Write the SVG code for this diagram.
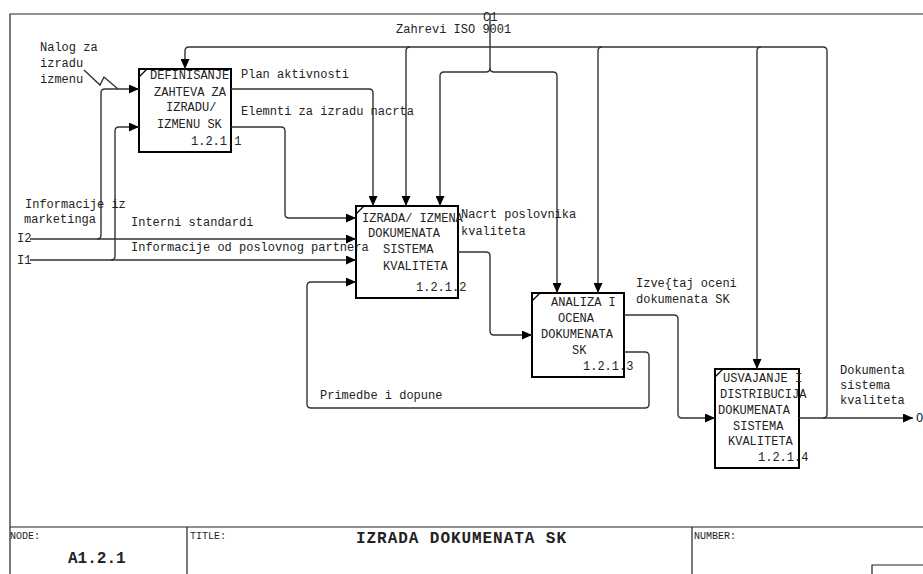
<svg xmlns="http://www.w3.org/2000/svg" width="923" height="574" viewBox="0 0 923 574">
<style>
text{font-family:"Liberation Mono","Courier New",monospace;font-size:12px;fill:#222}
.box{fill:#fff;stroke:#000;stroke-width:2}
.tick{stroke:#000;stroke-width:1.2}
.c{fill:none;stroke:#333;stroke-width:1.4}
.frame{fill:none;stroke:#222;stroke-width:1.2}
.small{font-size:10px}
.big{font-size:16px;font-weight:bold}
</style>
<defs>
<marker id="ah" markerUnits="userSpaceOnUse" markerWidth="11" markerHeight="9" refX="10" refY="4.5" orient="auto">
<path d="M0,0 L10,4.5 L0,9 z" fill="#000"/>
</marker>
</defs>
<rect width="923" height="574" fill="#fff"/>
<g id="frame">
<path class="frame" d="M10,574 V14 H923"/>
<path class="frame" d="M10,527 H923 M187,527 V574 M692,527 V574 M872,574 V565 H923"/>
<text class="small" x="10" y="539">NODE:</text>
<text class="small" x="190" y="539">TITLE:</text>
<text class="small" x="694" y="539">NUMBER:</text>
<text class="big" x="68" y="563">A1.2.1</text>
<text class="big" x="356" y="543" textLength="210">IZRADA DOKUMENATA SK</text>
</g>
<g id="node1">
<rect class="box" x="139" y="69" width="92" height="83"/>
<line class="tick" x1="139" y1="77" x2="147" y2="69"/>
<text x="150" y="79">DEFINISANJE</text>
<text x="154" y="96">ZAHTEVA ZA</text>
<text x="166" y="111">IZRADU/</text>
<text x="157" y="128">IZMENU SK</text>
<text x="191" y="145">1.2.1.1</text>
</g>
<g id="node2">
<rect class="box" x="356" y="206" width="102" height="92"/>
<line class="tick" x1="356" y1="214" x2="364" y2="206"/>
<text x="362" y="222">IZRADA/ IZMENA</text>
<text x="368" y="237">DOKUMENATA</text>
<text x="383" y="253">SISTEMA</text>
<text x="383" y="270">KVALITETA</text>
<text x="416" y="291">1.2.1.2</text>
</g>
<g id="node3">
<rect class="box" x="532" y="293" width="92" height="84"/>
<line class="tick" x1="532" y1="301" x2="540" y2="293"/>
<text x="551" y="306">ANALIZA I</text>
<text x="558" y="322">OCENA</text>
<text x="541" y="338">DOKUMENATA</text>
<text x="572" y="354">SK</text>
<text x="583" y="370">1.2.1.3</text>
</g>
<g id="node4">
<rect class="box" x="715" y="369" width="84" height="99"/>
<line class="tick" x1="715" y1="377" x2="723" y2="369"/>
<text x="723" y="382">USVAJANJE I</text>
<text x="720" y="398">DISTRIBUCIJA</text>
<text x="718" y="414">DOKUMENATA</text>
<text x="733" y="430">SISTEMA</text>
<text x="728" y="445">KVALITETA</text>
<text x="758" y="461">1.2.1.4</text>
</g>
<g id="connectors">
<path class="c" d="M30,239 H356" marker-end="url(#ah)"/>
<path class="c" d="M97,239 Q101,239 101,235 V93 Q101,89 105,89 H139" marker-end="url(#ah)"/>
<path class="c" d="M30,260 H356" marker-end="url(#ah)"/>
<path class="c" d="M111,260 Q115,260 115,256 V131 Q115,127 119,127 H139" marker-end="url(#ah)"/>
<path class="c" d="M84,70 L100,85 L104,77 L118,89"/>
<path class="c" d="M231,89 H369 Q373,89 373,93 V206" marker-end="url(#ah)"/>
<path class="c" d="M231,127 H281 Q285,127 285,131 V214 Q285,218 289,218 H356" marker-end="url(#ah)"/>
<path class="c" d="M799,418 H913" marker-end="url(#ah)"/>
<path class="c" d="M823,418 Q827,418 827,414 V51 Q827,47 823,47 H189 Q185,47 185,51 V69" marker-end="url(#ah)"/>
<path class="c" d="M410,47 Q406,47 406,51 V206" marker-end="url(#ah)"/>
<path class="c" d="M602,47 Q598,47 598,51 V293" marker-end="url(#ah)"/>
<path class="c" d="M761,47 Q757,47 757,51 V369" marker-end="url(#ah)"/>
<path class="c" d="M490,14 V68 Q490,72 486,72 H444 Q440,72 440,76 V206" marker-end="url(#ah)"/>
<path class="c" d="M490,68 Q490,72 494,72 H553 Q557,72 557,76 V293" marker-end="url(#ah)"/>
<path class="c" d="M458,252 H486 Q490,252 490,256 V331 Q490,335 494,335 H532" marker-end="url(#ah)"/>
<path class="c" d="M624,315 H674 Q678,315 678,319 V414 Q678,418 682,418 H715" marker-end="url(#ah)"/>
<path class="c" d="M624,352 H645 Q649,352 649,356 V404 Q649,408 645,408 H311 Q307,408 307,404 V286 Q307,282 311,282 H356" marker-end="url(#ah)"/>
<text x="40" y="51">Nalog za</text>
<text x="40" y="67">izradu</text>
<text x="40" y="83">izmenu</text>
<text x="241" y="78">Plan aktivnosti</text>
<text x="241" y="115">Elemnti za izradu nacrta</text>
<text x="483" y="21">C1</text>
<text x="396" y="33">Zahrevi ISO 9001</text>
<text x="25" y="208">Informacije iz</text>
<text x="24" y="223">marketinga</text>
<text x="131" y="226">Interni standardi</text>
<text x="131" y="251">Informacije od poslovnog partnera</text>
<text x="17" y="242">I2</text>
<text x="17" y="264">I1</text>
<text x="461" y="218">Nacrt poslovnika</text>
<text x="461" y="235">kvaliteta</text>
<text x="636" y="287">Izve{taj oceni</text>
<text x="636" y="303">dokumenata SK</text>
<text x="320" y="399">Primedbe i dopune</text>
<text x="840" y="374">Dokumenta</text>
<text x="840" y="389">sistema</text>
<text x="840" y="404">kvaliteta</text>
<text x="916" y="422">O1</text>
</g>
</svg>
